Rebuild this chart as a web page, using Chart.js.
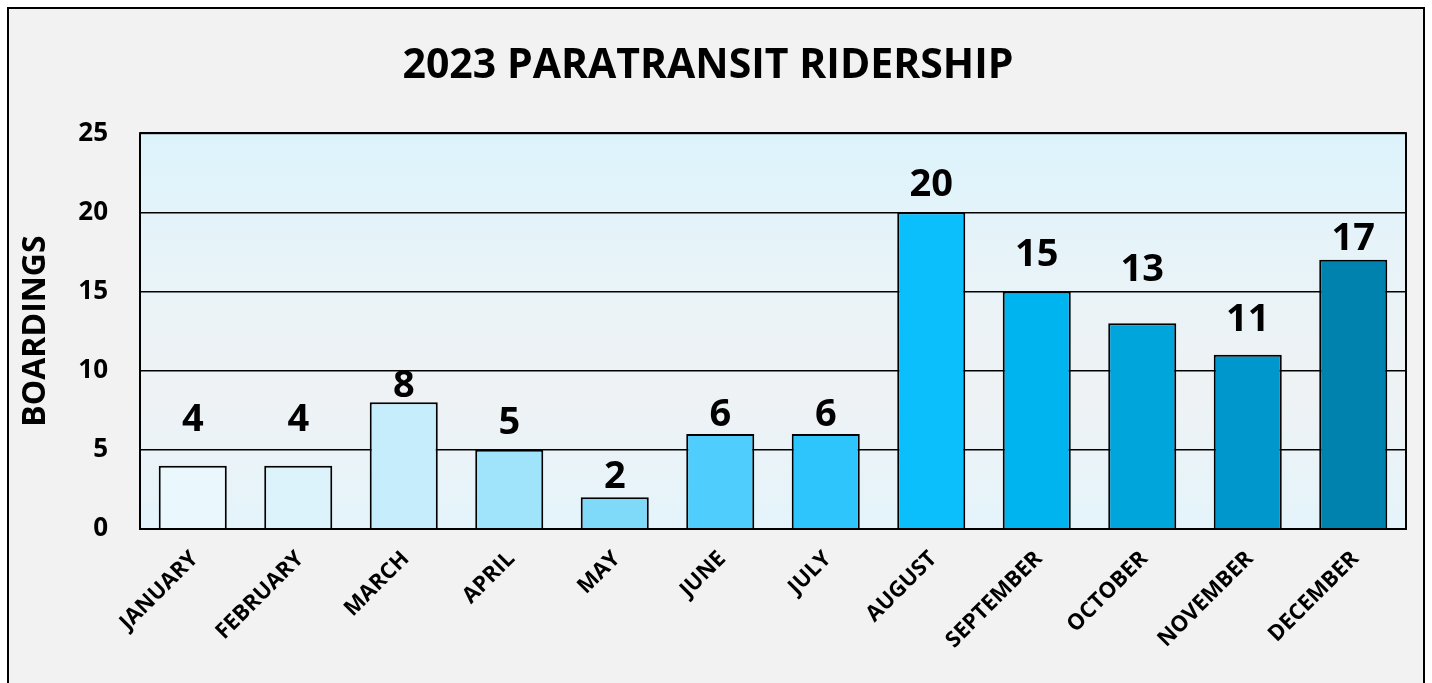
<!DOCTYPE html>
<html>
<head>
<meta charset="utf-8">
<script src="https://cdn.jsdelivr.net/npm/chart.js@4"></script>
<style>
  html, body { margin: 0; padding: 0; background: #ffffff; }
  #wrap { width: 1432px; height: 683px; }
</style>
</head>
<body>
<div id="wrap"><canvas id="ridershipChart"></canvas></div>
<script>
// chart data
var months = ["JANUARY", "FEBRUARY", "MARCH", "APRIL", "MAY", "JUNE", "JULY",
  "AUGUST", "SEPTEMBER", "OCTOBER", "NOVEMBER", "DECEMBER"];
var boardings = [4, 4, 8, 5, 2, 6, 6, 20, 15, 13, 11, 17];
var yTicks = [0, 5, 10, 15, 20, 25];

var barColors = ["#eaf7fd", "#dcf3fc", "#c6edfb", "#a0e4fb", "#7fdafa", "#4fcefd",
  "#2ec5fc", "#0bbffd", "#00b4f0", "#00a5dc", "#0097cc", "#0082ae"];
// how far each value label sits above its bar (px)
var labelLift = [46, 46, 16, 27, 20, 19, 19, 27, 36, 53, 35, 21];

var fontFamily = "'Open Sans', sans-serif";

// frame + plot background
var backgroundPlugin = {
  id: "backgroundPlugin",
  beforeDraw: function (chart) {
    var c = chart.ctx;
    var area = chart.chartArea;
    c.save();
    c.fillStyle = "#ffffff";
    c.fillRect(0, 0, chart.width, chart.height);
    c.fillStyle = "#f2f2f2";
    c.fillRect(8, 8, 1416, chart.height);
    c.strokeStyle = "#000000";
    c.lineWidth = 2;
    c.strokeRect(8, 8, 1416, chart.height + 10);

    var grad = c.createLinearGradient(0, area.top, 0, area.bottom);
    grad.addColorStop(0, "#ddf3fc");
    grad.addColorStop(0.35, "#e8f3f8");
    grad.addColorStop(0.65, "#eff2f4");
    grad.addColorStop(1, "#e4f4fb");
    c.fillStyle = grad;
    c.fillRect(area.left, area.top, area.right - area.left, area.bottom - area.top);
    c.restore();
  },
  afterDraw: function (chart) {
    var c = chart.ctx;
    var area = chart.chartArea;
    c.save();
    c.strokeStyle = "#000000";
    c.lineWidth = 2;
    c.strokeRect(area.left, area.top, area.right - area.left, area.bottom - area.top);
    c.restore();
  },
};

// value labels above the bars
var valueLabels = {
  id: "valueLabels",
  afterDatasetsDraw: function (chart) {
    var c = chart.ctx;
    var meta = chart.getDatasetMeta(0);
    c.save();
    c.font = "bold 38px " + fontFamily;
    c.fillStyle = "#000000";
    c.textAlign = "center";
    c.textBaseline = "middle";
    meta.data.forEach(function (bar, i) {
      c.fillText(String(boardings[i]), bar.x, bar.y - labelLift[i]);
    });
    c.restore();
  },
};

var ctx = document.getElementById("ridershipChart").getContext("2d");
var ridershipChart = new Chart(ctx, {
  type: "bar",
  data: {
    labels: months,
    datasets: [
      {
        label: "Boardings",
        data: boardings,
        backgroundColor: barColors,
        borderColor: "#000000",
        borderWidth: 2,
        categoryPercentage: 1,
        barPercentage: 0.645,
      },
    ],
  },
  options: {
    responsive: true,
    maintainAspectRatio: false,
    animation: false,
    layout: {
      padding: { left: 10, right: 26, top: 0, bottom: 0 },
    },
    plugins: {
      legend: { display: false },
      tooltip: { enabled: false },
      title: {
        display: true,
        text: "2023 PARATRANSIT RIDERSHIP",
        color: "#000000",
        font: { family: fontFamily, size: 41, weight: "bold" },
        padding: { top: 42, bottom: 42 },
      },
    },
    scales: {
      x: {
        grid: { display: false, drawTicks: false },
        border: { display: false },
        ticks: {
          color: "#000000",
          font: { family: fontFamily, size: 22, weight: "bold" },
          minRotation: 45,
          maxRotation: 45,
          padding: 17,
          labelOffset: 2,
        },
        afterFit: function (scale) {
          scale.height = 154;
        },
      },
      y: {
        min: 0,
        max: 25,
        afterBuildTicks: function (scale) {
          scale.ticks = yTicks.map(function (v) { return { value: v }; });
        },
        grid: { color: "#000000", lineWidth: 1.5, drawTicks: false },
        border: { display: false },
        ticks: {
          color: "#000000",
          font: { family: fontFamily, size: 26, weight: "bold" },
          padding: 32,
        },
        title: {
          display: true,
          text: "BOARDINGS",
          color: "#000000",
          font: { family: fontFamily, size: 32, weight: "bold" },
          padding: { top: 7, bottom: 0 },
        },
        afterFit: function (scale) {
          scale.width = 130;
        },
      },
    },
  },
  plugins: [backgroundPlugin, valueLabels],
});
</script>
</body>
</html>
